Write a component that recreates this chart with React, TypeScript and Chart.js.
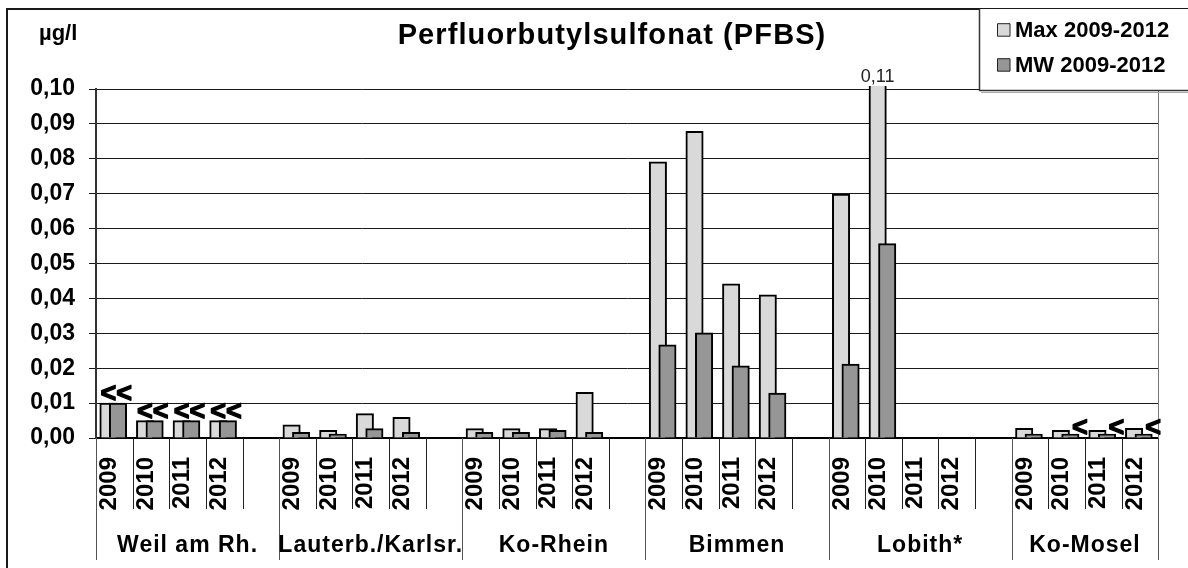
import React, { useEffect, useRef } from 'react';
import { Chart, registerables } from 'chart.js';

Chart.register(...registerables);

// ---------- data ----------
const titleText = 'Perfluorbutylsulfonat (PFBS)';
const unitText = 'µg/l';
const groups = ['Weil am Rh.', 'Lauterb./Karlsr.', 'Ko-Rhein', 'Bimmen', 'Lobith*', 'Ko-Mosel'];
const years = ['2009', '2010', '2011', '2012'];
const seriesNames = ['Max 2009-2012', 'MW 2009-2012'];

// Max 2009-2012 per station (2009..2012)
const maxValues: (number | null)[][] = [
  [0.010, 0.005, 0.005, 0.005],
  [0.0038, 0.0022, 0.0070, 0.0059],
  [0.0027, 0.0027, 0.0027, 0.0131],
  [0.0791, 0.0879, 0.0442, 0.0410],
  [0.0699, 0.11, null, null],
  [0.0028, 0.0022, 0.0022, 0.0028],
];
// MW 2009-2012 per station (2009..2012)
const mwValues: (number | null)[][] = [
  [0.010, 0.005, 0.005, 0.005],
  [0.0016, 0.0011, 0.0027, 0.0016],
  [0.0016, 0.0016, 0.0022, 0.0016],
  [0.0267, 0.0301, 0.0207, 0.0129],
  [0.0212, 0.0557, null, null],
  [0.0011, 0.0011, 0.0011, 0.0011],
];
// "<" (below limit of quantification) markers
const maxBelowLoq: boolean[][] = [
  [true, true, true, true],
  [false, false, false, false],
  [false, false, false, false],
  [false, false, false, false],
  [false, false, false, false],
  [false, false, false, false],
];
const mwBelowLoq: boolean[][] = [
  [true, true, true, true],
  [false, false, false, false],
  [false, false, false, false],
  [false, false, false, false],
  [false, false, false, false],
  [false, true, true, true],
];
const yMin = 0;
const yMax = 0.1;
const yStep = 0.01;

// ---------- styles ----------
const FONT = "'Liberation Sans', Arial, Helvetica, sans-serif";
const MAX_COLOR = '#d9d9d9';
const MW_COLOR = '#969696';
const MAX_SHIFT = -0.16; // slot fraction
const MW_SHIFT = 0.1;
const BAR_THICKNESS = 17.4;

// ---------- build slot table ----------
const slotLabels: string[] = [];
const slotMax: (number | null)[] = [];
const slotMw: (number | null)[] = [];
const slotMaxLoq: boolean[] = [];
const slotMwLoq: boolean[] = [];
const groupStart: number[] = [];
groups.forEach((g, gi) => {
  groupStart.push(slotLabels.length);
  years.forEach((yr, yi) => {
    slotLabels.push(yr);
    slotMax.push(maxValues[gi][yi]);
    slotMw.push(mwValues[gi][yi]);
    slotMaxLoq.push(maxBelowLoq[gi][yi]);
    slotMwLoq.push(mwBelowLoq[gi][yi]);
  });
  if (gi < groups.length - 1) {
    slotLabels.push('');
    slotMax.push(null);
    slotMw.push(null);
    slotMaxLoq.push(false);
    slotMwLoq.push(false);
  }
});
const nSlots = slotLabels.length;
groupStart.push(nSlots);

const fmt = (v: number) => v.toFixed(2).replace('.', ',');

const decorations = {
  id: 'decorations',
  afterDraw(chart: any) {
    const { ctx, chartArea } = chart;
    const xb = chart.scales.xb;
    const W = chart.width;
    const H = chart.height;
    const bx = (i: number) => xb.getPixelForValue(i - 0.5);
    const axisY = chartArea.bottom;
    ctx.save();
    const hasLS = 'letterSpacing' in ctx;
    const ls = (v: string) => {
      if (hasLS) ctx.letterSpacing = v;
    };

    // outer frame
    ctx.strokeStyle = '#1a1a1a';
    ctx.lineWidth = 2;
    ctx.beginPath();
    ctx.moveTo(7, H + 5);
    ctx.lineTo(7, 9);
    ctx.lineTo(W + 5, 9);
    ctx.stroke();

    // separators below x-axis
    ctx.lineWidth = 1;
    for (let i = 0; i <= nSlots; i++) {
      const isGroup = groupStart.includes(i);
      const x = Math.round(bx(i)) + 0.5;
      ctx.strokeStyle = isGroup ? '#555' : '#222';
      ctx.beginPath();
      ctx.moveTo(x, axisY);
      ctx.lineTo(x, isGroup ? 560 : 509);
      ctx.stroke();
    }
    // right plot border
    const rx = Math.round(bx(nSlots)) + 0.5;
    ctx.strokeStyle = '#777';
    ctx.beginPath();
    ctx.moveTo(rx, chartArea.top);
    ctx.lineTo(rx, axisY);
    ctx.stroke();

    // group labels
    ctx.fillStyle = '#000';
    ctx.font = `bold 23px ${FONT}`;
    ctx.textAlign = 'center';
    ctx.textBaseline = 'alphabetic';
    ls('1px');
    groups.forEach((g, gi) => {
      const cx = (bx(groupStart[gi]) + bx(groupStart[gi + 1])) / 2;
      ctx.fillText(g, cx, 551.5);
    });

    // "<" markers and over-range labels
    const mMax = chart.getDatasetMeta(0);
    const mMw = chart.getDatasetMeta(1);
    ctx.font = `bold 27px ${FONT}`;
    ctx.strokeStyle = '#000';
    ctx.lineWidth = 1.3;
    ctx.lineJoin = 'round';
    ls('0px');
    for (let i = 0; i < nSlots; i++) {
      const pMax = mMax.data[i];
      const pMw = mMw.data[i];
      let txt = '';
      let tx = 0;
      let ty = 0;
      if (slotMaxLoq[i] && slotMwLoq[i]) {
        txt = '<<';
        tx = (pMax.x + pMw.x) / 2 + 3;
        ty = Math.min(pMax.y, pMw.y) - 1;
      } else if (slotMwLoq[i]) {
        txt = '<';
        tx = pMw.x + 9.5;
        ty = pMw.y + 2;
      }
      if (txt) {
        ctx.textAlign = 'center';
        ctx.fillText(txt, tx, ty);
        ctx.strokeText(txt, tx, ty);
      }
    }
    ctx.font = `18px ${FONT}`;
    ctx.fillStyle = '#222';
    ctx.textAlign = 'center';
    for (let i = 0; i < nSlots; i++) {
      const v = slotMax[i];
      if (v != null && v > yMax) {
        ctx.fillText(fmt(v), mMax.data[i].x, chartArea.top - 7.5);
      }
    }

    // title and unit
    ctx.fillStyle = '#000';
    ctx.font = `bold 29px ${FONT}`;
    ls('1.1px');
    ctx.textAlign = 'center';
    ctx.fillText(titleText, 612, 44);
    ls('0px');
    ctx.font = `bold 22px ${FONT}`;
    ctx.textAlign = 'left';
    ctx.fillText(unitText, 39, 40);

    // legend box
    ctx.fillStyle = '#fff';
    ctx.fillRect(979, 9, W - 979 + 5, 82);
    ctx.strokeStyle = '#333';
    ctx.lineWidth = 1.5;
    ctx.beginPath();
    ctx.moveTo(979.5, 9);
    ctx.lineTo(979.5, 90.5);
    ctx.lineTo(W + 5, 90.5);
    ctx.stroke();
    ctx.strokeStyle = '#aaa';
    ctx.lineWidth = 1;
    ctx.beginPath();
    ctx.moveTo(981, 92.5);
    ctx.lineTo(W + 5, 92.5);
    ctx.stroke();
    const colors = [MAX_COLOR, MW_COLOR];
    const rows = [36.7, 71.7];
    ctx.font = `bold 22px ${FONT}`;
    seriesNames.forEach((name, k) => {
      ctx.fillStyle = colors[k];
      ctx.fillRect(997.5, rows[k] - 13, 12.5, 12.5);
      ctx.strokeStyle = '#222';
      ctx.lineWidth = 1;
      ctx.strokeRect(997.5, rows[k] - 13, 12.5, 12.5);
      ctx.fillStyle = '#000';
      ctx.fillText(name, 1015, rows[k]);
    });
    ctx.restore();
  },
};

export default function App() {
  const ref = useRef<HTMLCanvasElement | null>(null);
  useEffect(() => {
    document.body.style.margin = '0';
    const canvas = ref.current;
    if (!canvas) return;
    Chart.defaults.font.family = FONT;
    const clip = { left: 10, right: 10, top: 3, bottom: 10 };
    const chart = new Chart(canvas, {
      type: 'bar',
      data: {
        labels: slotLabels,
        datasets: [
          {
            label: seriesNames[0],
            data: slotMax.map((v, i) => ({ x: i + MAX_SHIFT, y: v })) as any,
            backgroundColor: MAX_COLOR,
            borderColor: '#000',
            borderWidth: 2,
            grouped: false,
            barThickness: BAR_THICKNESS,
            xAxisID: 'xb',
            yAxisID: 'y',
            order: 1,
            clip: clip as any,
          },
          {
            label: seriesNames[1],
            data: slotMw.map((v, i) => ({ x: i + MW_SHIFT, y: v })) as any,
            backgroundColor: MW_COLOR,
            borderColor: '#000',
            borderWidth: 2,
            grouped: false,
            barThickness: BAR_THICKNESS,
            xAxisID: 'xb',
            yAxisID: 'y',
            order: 0,
            clip: clip as any,
          },
        ],
      },
      options: {
        responsive: false,
        animation: false,
        devicePixelRatio: 1,
        events: [],
        layout: { padding: { top: 89, left: 0, right: 15, bottom: 0 } },
        plugins: { legend: { display: false }, tooltip: { enabled: false }, title: { display: false } },
        scales: {
          x: {
            type: 'category',
            labels: slotLabels,
            offset: true,
            position: 'bottom',
            grid: { display: false, drawTicks: false },
            border: { display: true, color: '#000', width: 2 },
            ticks: {
              autoSkip: false,
              minRotation: 90,
              maxRotation: 90,
              padding: 19,
              labelOffset: -5,
              color: '#000',
              font: { size: 24, weight: 'bold', family: FONT },
            },
            afterFit: (s: any) => {
              s.height = 130;
            },
          },
          xb: {
            type: 'linear',
            display: false,
            offset: false,
            min: -0.5,
            max: nSlots - 0.5,
            position: 'bottom',
          },
          y: {
            type: 'linear',
            min: yMin,
            max: yMax,
            position: 'left',
            grid: { color: '#1a1a1a', lineWidth: 1, drawTicks: true, tickLength: 7 },
            border: { display: true, color: '#333', width: 2 },
            ticks: {
              stepSize: yStep,
              padding: 14,
              color: '#000',
              font: { size: 23, weight: 'bold', family: FONT },
              callback: (v: any) => fmt(Number(v)),
            },
            afterFit: (s: any) => {
              s.width = 96;
            },
          },
        },
      } as any,
      plugins: [decorations],
    });
    return () => chart.destroy();
  }, []);
  return (
    <div style={{ width: 1188, height: 568, background: '#fff' }}>
      <canvas ref={ref} width={1188} height={568} style={{ display: 'block' }} />
    </div>
  );
}
